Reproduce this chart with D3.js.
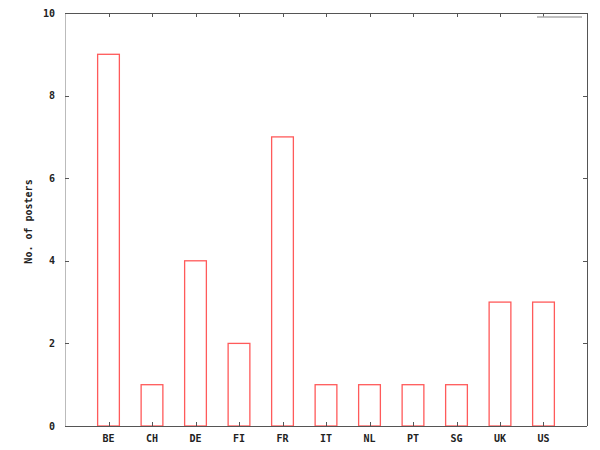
<!DOCTYPE html>
<html><head><meta charset="utf-8">
<script src="https://cdn.jsdelivr.net/npm/d3@7"></script>
<style>body{margin:0;background:#fff}svg{display:block}</style>
</head><body>
<svg id="c" width="600" height="450"></svg>
<script>
const categories = ["BE","CH","DE","FI","FR","IT","NL","PT","SG","UK","US"];
const values = [9,1,4,2,7,1,1,1,1,3,3];
const yTicks = [0,2,4,6,8,10];
const yLabel = "No. of posters";

const svg = d3.select("#c");
const m = {l:65, r:587, t:13, b:426};
const x = d3.scaleLinear().domain([0, categories.length+1]).range([m.l, m.r]);
const y = d3.scaleLinear().domain([0,10]).range([m.b, m.t]);
const font = "DejaVu Sans Mono, monospace";

// bars
svg.append("g").selectAll("rect").data(values).join("rect")
  .attr("x", (d,i)=>x(i+1-0.25)).attr("width", x(0.5)-x(0))
  .attr("y", d=>y(d)).attr("height", d=>y(0)-y(d))
  .attr("fill","none").attr("stroke","#ff5a5a").attr("stroke-width",1.3);

// border
svg.append("line").attr("x1",m.l).attr("x2",m.r).attr("y1",m.t+0.5).attr("y2",m.t+0.5).attr("stroke","#555");
svg.append("line").attr("x1",m.l).attr("x2",m.r).attr("y1",m.b+0.5).attr("y2",m.b+0.5).attr("stroke","#555");
svg.append("line").attr("x1",m.r+0.5).attr("x2",m.r+0.5).attr("y1",m.t).attr("y2",m.b).attr("stroke","#555");
svg.append("line").attr("x1",m.l+0.5).attr("x2",m.l+0.5).attr("y1",m.t).attr("y2",m.b).attr("stroke","#bbb");

// y ticks
const yt = svg.append("g");
yTicks.forEach(t=>{
  const yy = Math.round(y(t))+0.5;
  yt.append("line").attr("x1",m.l).attr("x2",m.l+4).attr("y1",yy).attr("y2",yy).attr("stroke","#555");
  yt.append("line").attr("x1",m.r-4).attr("x2",m.r).attr("y1",yy).attr("y2",yy).attr("stroke","#555");
  yt.append("text").attr("x",m.l-10).attr("y",y(t)).attr("dy","0.35em").attr("text-anchor","end")
    .attr("font-family",font).attr("font-size",10).attr("font-weight","bold").attr("fill","#222").text(t);
});
// x ticks
const xt = svg.append("g");
categories.forEach((c,i)=>{
  const xx = Math.round(x(i+1))+0.5;
  xt.append("line").attr("x1",xx).attr("x2",xx).attr("y1",m.b).attr("y2",m.b-4).attr("stroke","#555");
  xt.append("line").attr("x1",xx).attr("x2",xx).attr("y1",m.t).attr("y2",m.t+4).attr("stroke","#555");
  xt.append("text").attr("x",x(i+1)).attr("y",m.b+12).attr("dy","0.35em").attr("text-anchor","middle")
    .attr("font-family",font).attr("font-size",10).attr("font-weight","bold").attr("fill","#222").text(c);
});
// y label
svg.append("text").attr("transform",`translate(28,${(m.t+m.b)/2+2}) rotate(-90)`).attr("text-anchor","middle")
  .attr("dy","0.35em").attr("font-family",font).attr("font-size",10).attr("font-weight","bold").attr("fill","#222").text(yLabel);
// legend sample
svg.append("line").attr("x1",537).attr("x2",582).attr("y1",17).attr("y2",17).attr("stroke","#aaa").attr("stroke-width",1.5);
</script>
</body></html>
